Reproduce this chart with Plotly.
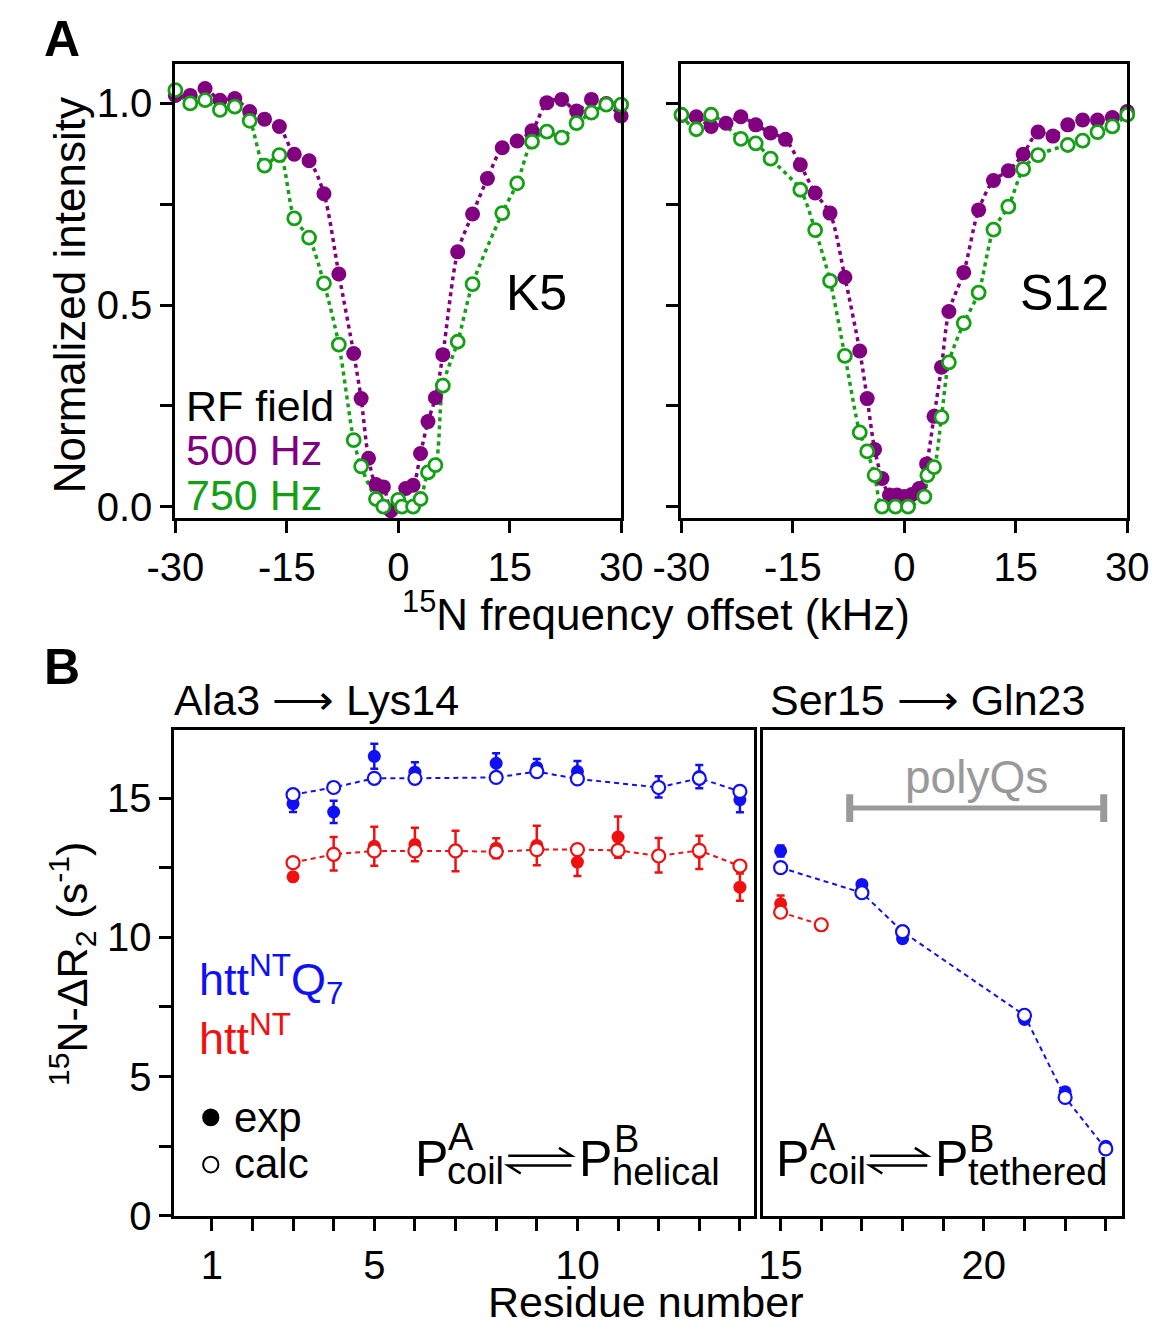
import plotly.graph_objects as go

# ---------------- data: panel A (saturation profiles) ----------------
K5_500_OFFSET = [-30, -28, -26, -24, -22, -20, -18, -16, -14, -12, -10, -8, -6, -5, -4, -3, -2, -1, 0,
                 1, 2, 3, 4, 5, 6, 8, 10, 12, 14, 16, 18, 20, 22, 24, 26, 28, 30]
K5_500_INT = [1.02, 1.02, 1.037, 1.008, 1.012, 0.98, 0.961, 0.943, 0.874, 0.858, 0.776, 0.577, 0.38, 0.268,
              0.12, 0.055, 0.049, -0.01, 0.01, 0.045, 0.053, 0.132, 0.211, 0.27, 0.377, 0.632, 0.726, 0.814,
              0.89, 0.907, 0.932, 1.002, 1.01, 0.981, 1.01, 1.0, 0.969]

K5_750_OFFSET = [-30, -28, -26, -24, -22, -20, -18, -16, -14, -12, -10, -8, -6, -5, -3, -2, 0, 0.5,
                 2, 3, 4, 5, 6, 8, 10, 14, 16, 18, 20, 22, 24, 26, 28, 30]
K5_750_INT = [1.033, 1.0, 1.008, 0.984, 0.992, 0.957, 0.846, 0.872, 0.715, 0.667, 0.554, 0.402, 0.165, 0.10,
              0.019, 0.0, 0.017, 0.0, 0.0, 0.019, 0.085, 0.103, 0.30, 0.409, 0.552, 0.728, 0.802, 0.905,
              0.93, 0.915, 0.951, 0.977, 0.997, 0.997]

S12_500_OFFSET = [-30, -28, -26, -24, -22, -20, -18, -16, -14, -12, -10, -8, -6, -5, -4, -3, -2, -1, 0,
                  1, 2, 3, 4, 5, 6, 8, 10, 12, 14, 16, 18, 20, 22, 24, 26, 28, 30]
S12_500_INT = [0.97, 0.967, 0.943, 0.951, 0.967, 0.947, 0.927, 0.911, 0.848, 0.778, 0.728, 0.569, 0.386,
               0.268, 0.142, 0.07, 0.029, 0.029, 0.025, 0.03, 0.045, 0.106, 0.224, 0.346, 0.484, 0.581,
               0.736, 0.809, 0.833, 0.874, 0.929, 0.919, 0.947, 0.959, 0.959, 0.965, 0.98]

S12_750_OFFSET = [-30, -28, -26, -22, -20, -18, -14, -12, -10, -8, -6, -5, -4, -3, -1.2, 0.5, 2.7, 3.1,
                  4, 5, 6, 8, 10, 12, 14, 16, 18, 22, 24, 26, 28, 30]
S12_750_INT = [0.972, 0.936, 0.972, 0.912, 0.901, 0.863, 0.786, 0.686, 0.56, 0.374, 0.184, 0.137, 0.078,
               0.0, 0.0, 0.0, 0.025, 0.078, 0.098, 0.222, 0.358, 0.455, 0.531, 0.687, 0.744, 0.837, 0.872,
               0.897, 0.908, 0.929, 0.943, 0.972]

A_XTICKS = [-30, -15, 0, 15, 30]
A_YTICKS = [0, 0.25, 0.5, 0.75, 1.0]
A_YTICKTEXT = ["0.0", "", "0.5", "", "1.0"]

# ---------------- data: panel B (15N-dR2 per residue) ----------------
RESIDUES = list(range(3, 24))
BLUE_EXP = [14.8, 14.5, 16.5, 15.93, None, 16.25, 16.1, 15.95, None, 15.4, 15.77, 14.94,
            13.1, None, 11.9, 9.95, None, None, 7.05, 4.45, 2.5]
BLUE_CALC = [15.12, 15.38, 15.71, 15.71, None, 15.74, 15.95, 15.69, None, 15.38, 15.71, 15.24,
             12.5, None, 11.6, 10.2, None, None, 7.2, 4.25, 2.4]
BLUE_ERR = [0.3, 0.4, 0.45, 0.36, None, 0.36, 0.3, 0.38, None, 0.38, 0.42, 0.45,
            0.2, None, 0.12, 0.12, None, None, 0.1, 0.12, 0.12]
RED_EXP = [12.17, 13.0, 13.27, 13.33, 13.1, 13.2, 13.3, 12.7, 13.6, 12.95, 13.05, 11.8,
           11.2, None, None, None, None, None, None, None, None]
RED_CALC = [12.68, 12.98, 13.1, 13.1, 13.1, 13.07, 13.15, 13.15, 13.12, 12.92, 13.12, 12.56,
            10.9, 10.45, None, None, None, None, None, None, None]
RED_ERR = [0.12, 0.6, 0.7, 0.6, 0.73, 0.36, 0.71, 0.5, 0.74, 0.62, 0.6, 0.49,
           0.3, None, None, None, None, None, None, None, None]

B_LEFT_TICKS = list(range(1, 15))
B_LEFT_LABELS = {1: "1", 5: "5", 10: "10"}
B_RIGHT_TICKS = list(range(15, 24))
B_RIGHT_LABELS = {15: "15", 20: "20"}
B_YTICKS = [0, 2.5, 5, 7.5, 10, 12.5, 15]
B_YTICKTEXT = ["0", "", "5", "", "10", "", "15"]
POLYQ_SPAN = (16.7, 22.95)
POLYQ_LEVEL = 14.64

# ---------------- styling ----------------
W, H = 1176, 1342
FONT = "Liberation Sans, Arial, Helvetica, sans-serif"
PURPLE = "#800080"
GREEN = "#14a014"
BLUE = "#1010f5"
RED = "#f01010"
GRAY = "#999999"


def px(x):
    return x / W


def py(y):
    return 1 - y / H


fig = go.Figure()


def add_profile(xs1, ys1, xs2, ys2, xa, ya):
    for xs, ys, col in ((xs1, ys1, PURPLE), (xs2, ys2, GREEN)):
        fig.add_trace(go.Scatter(x=xs, y=ys, mode="lines", xaxis=xa, yaxis=ya,
                                 line=dict(color=col, width=3.5, dash="4px,4px", shape="spline", smoothing=0.8),
                                 hoverinfo="skip", showlegend=False, cliponaxis=False))
    fig.add_trace(go.Scatter(x=xs1, y=ys1, mode="markers", xaxis=xa, yaxis=ya,
                             marker=dict(size=15, color=PURPLE, line=dict(width=0)),
                             showlegend=False, cliponaxis=False))
    fig.add_trace(go.Scatter(x=xs2, y=ys2, mode="markers", xaxis=xa, yaxis=ya,
                             marker=dict(size=13, color="white", line=dict(color=GREEN, width=2.8)),
                             showlegend=False, cliponaxis=False))


add_profile(K5_500_OFFSET, K5_500_INT, K5_750_OFFSET, K5_750_INT, "x", "y")
add_profile(S12_500_OFFSET, S12_500_INT, S12_750_OFFSET, S12_750_INT, "x2", "y2")


def pick(vals, errs, side):
    xs, ys, es = [], [], []
    for r, v, e in zip(RESIDUES, vals, errs):
        if v is None:
            continue
        if (side == "L" and r <= 14) or (side == "R" and r >= 15):
            xs.append(r)
            ys.append(v)
            es.append(e if e is not None else 0)
    return xs, ys, es


for side, xa, ya in (("L", "x3", "y3"), ("R", "x4", "y4")):
    for exp, calc, err, col in ((RED_EXP, RED_CALC, RED_ERR, RED), (BLUE_EXP, BLUE_CALC, BLUE_ERR, BLUE)):
        cx, cy, _ = pick(calc, err, side)
        ex, ey, ee = pick(exp, err, side)
        fig.add_trace(go.Scatter(x=cx, y=cy, mode="lines", xaxis=xa, yaxis=ya,
                                 line=dict(color=col, width=2, dash="5px,4px"),
                                 hoverinfo="skip", showlegend=False, cliponaxis=False))
        fig.add_trace(go.Scatter(x=ex, y=ey, mode="markers", xaxis=xa, yaxis=ya,
                                 marker=dict(size=13, color=col, line=dict(width=0)),
                                 error_y=dict(type="data", array=ee, visible=True, color=col,
                                              thickness=2.5, width=4),
                                 showlegend=False, cliponaxis=False))
        fig.add_trace(go.Scatter(x=cx, y=cy, mode="markers", xaxis=xa, yaxis=ya,
                                 marker=dict(size=13, color="white", line=dict(color=col, width=2.2)),
                                 showlegend=False, cliponaxis=False))

common = dict(showline=True, linecolor="black", linewidth=3, mirror=True, ticks="outside",
              ticklen=12, tickwidth=2.5, tickcolor="black", showgrid=False, zeroline=False,
              tickfont=dict(family=FONT, size=40, color="black"), fixedrange=True)

A_YDOM = [py(527), py(65)]
B_YDOM = [py(1236), py(742)]

fig.update_layout(
    width=W, height=H, margin=dict(l=0, r=0, t=0, b=0),
    paper_bgcolor="white", plot_bgcolor="white", showlegend=False,
    font=dict(family=FONT, color="black"),
    xaxis=dict(common, domain=[px(153), px(619)], range=[-30, 30], tickvals=A_XTICKS,
               ticktext=[str(v) for v in A_XTICKS], anchor="y"),
    yaxis=dict(common, domain=A_YDOM, range=[-0.029, 1.098], tickvals=A_YTICKS,
               ticktext=A_YTICKTEXT, anchor="x"),
    xaxis2=dict(common, domain=[px(682), px(1148)], range=[-30, 30], tickvals=A_XTICKS,
                ticktext=[str(v) for v in A_XTICKS], anchor="y2"),
    yaxis2=dict(common, domain=A_YDOM, range=[-0.029, 1.098], tickvals=A_YTICKS,
                showticklabels=False, anchor="x2"),
    xaxis3=dict(common, domain=[px(152), px(758)], range=[0.08, 14.35], tickvals=B_LEFT_TICKS,
                ticktext=[B_LEFT_LABELS.get(t, "") for t in B_LEFT_TICKS], anchor="y3"),
    yaxis3=dict(common, domain=B_YDOM, range=[0, 17.45], tickvals=B_YTICKS,
                ticktext=B_YTICKTEXT, anchor="x3"),
    xaxis4=dict(common, domain=[px(767), px(1143)], range=[14.56, 23.41], tickvals=B_RIGHT_TICKS,
                ticktext=[B_RIGHT_LABELS.get(t, "") for t in B_RIGHT_TICKS], anchor="y4"),
    yaxis4=dict(common, domain=B_YDOM, range=[0, 17.45], ticks="", showticklabels=False, anchor="x4"),
)

anns = []


def ann(text, x, y, size, color="black", xanchor="center", yanchor="middle", angle=0):
    anns.append(dict(text=text, x=px(x), y=py(y), xref="paper", yref="paper", showarrow=False,
                     xanchor=xanchor, yanchor=yanchor, textangle=angle,
                     font=dict(family=FONT, size=size, color=color)))


ann("<b>A</b>", 14, 40, 50, xanchor="left")
ann("<b>B</b>", 14, 678, 50, xanchor="left")
ann("Normalized intensity", 42, 300, 44, angle=-90)
ann("<sup>15</sup>N frequency offset (kHz)", 655, 622, 44)
ann("K5", 531, 298, 50)
ann("S12", 1082, 298, 50)
ann("RF field", 162, 413, 43, xanchor="left")
ann("500 Hz", 162, 458, 43, color=PURPLE, xanchor="left")
ann("750 Hz", 162, 503, 43, color=GREEN, xanchor="left")

ann("Ala3 \u27f6 Lys14", 150, 712, 43, xanchor="left")
ann("Ser15 \u27f6 Gln23", 772, 712, 43, xanchor="left")
ann("<sup>15</sup>N-\u0394R<sub>2</sub> (s<sup>-1</sup>)", 45, 980, 43, angle=-90)
ann("Residue number", 645, 1324, 43)
ann("polyQs", 990, 790, 46, color=GRAY)
ann("htt<sup>NT</sup>Q<sub>7</sub>", 176, 995, 45, color=BLUE, xanchor="left")
ann("htt<sup>NT</sup>", 176, 1052, 45, color=RED, xanchor="left")
ann("exp", 212, 1136, 42, xanchor="left")
ann("calc", 212, 1183, 42, xanchor="left")

shapes = []


def harpoons(x_left, x_right, yc):
    # equilibrium sign: upper arrow to the right, lower arrow to the left
    yt, yb = yc - 5, yc + 5
    top = (f"M {px(x_left)} {py(yt)} L {px(x_right)} {py(yt)} "
           f"L {px(x_right - 13)} {py(yt - 8)}")
    bot = (f"M {px(x_right)} {py(yb)} L {px(x_left)} {py(yb)} "
           f"L {px(x_left + 13)} {py(yb + 8)}")
    for p in (top, bot):
        shapes.append(dict(type="path", xref="paper", yref="paper", path=p,
                           line=dict(color="black", width=2.5)))


# equilibrium labels, composed of stacked pieces
for x0, right_word, p2 in ((401, "helical", 172), (779, "tethered", 166)):
    ann("P", x0, 1178, 50, xanchor="left")
    ann("A", x0 + 35, 1156, 38, xanchor="left")
    ann("coil", x0 + 34, 1191, 38, xanchor="left")
    harpoons(x0 + 100, x0 + p2 - 6, 1180)
    ann("P", x0 + p2, 1178, 50, xanchor="left")
    ann("B", x0 + p2 + 36, 1158, 38, xanchor="left")
    ann(right_word, x0 + p2 + 34, 1192, 38, xanchor="left")

shapes += [
    dict(type="circle", xref="paper", yref="paper", x0=px(181), x1=px(199), y0=py(1145), y1=py(1127),
         fillcolor="black", line=dict(color="black", width=0)),
    dict(type="circle", xref="paper", yref="paper", x0=px(182), x1=px(198), y0=py(1192), y1=py(1176),
         fillcolor="white", line=dict(color="black", width=2)),
    dict(type="line", xref="x4", yref="y4", x0=POLYQ_SPAN[0], x1=POLYQ_SPAN[1], y0=POLYQ_LEVEL,
         y1=POLYQ_LEVEL, line=dict(color=GRAY, width=5)),
    dict(type="line", xref="x4", yref="y4", x0=POLYQ_SPAN[0], x1=POLYQ_SPAN[0], y0=POLYQ_LEVEL - 0.5,
         y1=POLYQ_LEVEL + 0.5, line=dict(color=GRAY, width=7)),
    dict(type="line", xref="x4", yref="y4", x0=POLYQ_SPAN[1], x1=POLYQ_SPAN[1], y0=POLYQ_LEVEL - 0.5,
         y1=POLYQ_LEVEL + 0.5, line=dict(color=GRAY, width=7)),
]

fig.update_layout(annotations=anns, shapes=shapes)

fig.write_html("out.html", config={"displayModeBar": False},
               post_script="document.body.style.margin='0px';")
